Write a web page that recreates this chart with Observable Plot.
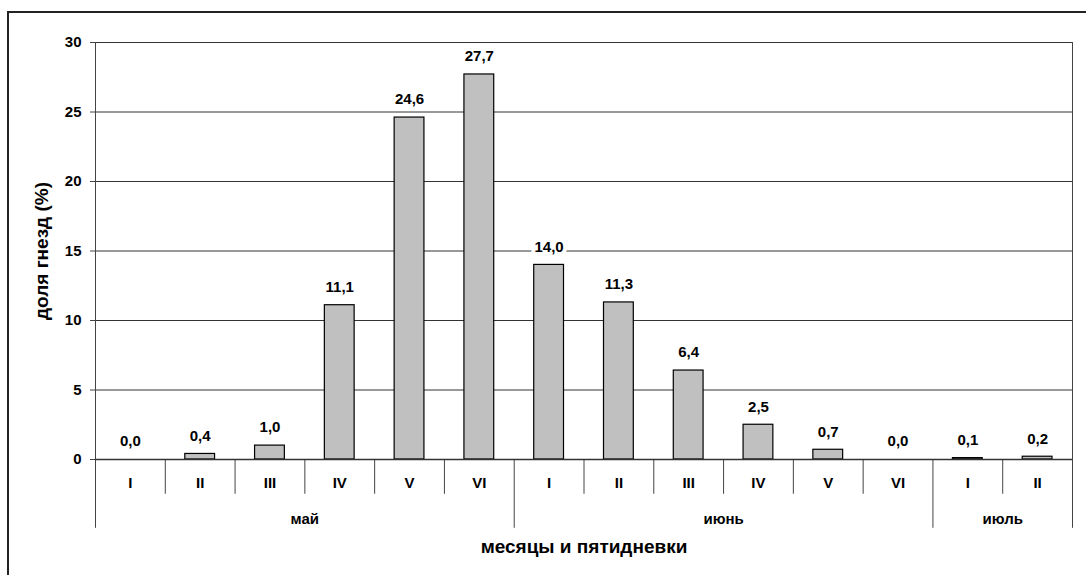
<!DOCTYPE html>
<html><head><meta charset="utf-8">
<script src="https://cdn.jsdelivr.net/npm/d3@7"></script>
<script src="https://cdn.jsdelivr.net/npm/@observablehq/plot@0.6"></script>
<style>
html,body{margin:0;padding:0;background:#fff;overflow:hidden;width:1086px;height:575px;}
#frame{position:absolute;left:7px;top:11px;width:1200px;height:700px;border-left:2px solid #222;border-top:2px solid #222;}
#chart{position:absolute;left:0;top:0;}
</style></head>
<body>
<div id="frame"></div>
<div id="chart"></div>
<script>
const pentads = ["I","II","III","IV","V","VI","I","II","III","IV","V","VI","I","II"];
const values = [0.0, 0.4, 1.0, 11.1, 24.6, 27.7, 14.0, 11.3, 6.4, 2.5, 0.7, 0.0, 0.1, 0.2];
const months = ["май","июнь","июль"];
const monthStart = [0, 6, 12];
const monthEnd = [6, 12, 14];
const yTicks = [0, 5, 10, 15, 20, 25, 30];
const yTitle = "доля гнезд (%)";
const xTitle = "месяцы и пятидневки";

const bars = values.map((v, i) => ({i, v, p: pentads[i], label: v.toFixed(1).replace(".", ",")}));
const monthData = months.map((m, k) => ({m, a: monthStart[k], b: monthEnd[k]}));
const pentadSeps = d3.range(0, pentads.length + 1).filter(i => !monthStart.includes(i) && !monthEnd.includes(i));
const monthSeps = Array.from(new Set([...monthStart, ...monthEnd]));

const font = "Liberation Sans, Arial, sans-serif";
const chart = Plot.plot({
  width: 1086, height: 575,
  marginLeft: 95, marginRight: 14, marginTop: 42, marginBottom: 116,
  style: {fontFamily: font, fontWeight: "bold", fontSize: "15px", background: "transparent", color: "#000"},
  x: {type: "linear", domain: [0, pentads.length], axis: null},
  y: {domain: [0, 30], axis: null},
  marks: [
    Plot.ruleY(yTicks.filter(d => d > 0), {stroke: "#333", strokeWidth: 1}),
    Plot.rectY(bars, {x1: "i", x2: d => d.i + 1, y: "v", fill: "#c0c0c0", stroke: "#000", strokeWidth: 1.2, insetLeft: 20, insetRight: 20}),
    Plot.ruleX(monthSeps, {x: d => d, y1: -4.95, y2: d => (d === 0 || d === pentads.length) ? 30 : 0, stroke: "#444", strokeWidth: 1}),
    Plot.ruleX(pentadSeps, {x: d => d, y1: -2.5, y2: 0, stroke: "#444", strokeWidth: 1}),
    Plot.ruleY([0], {stroke: "#333", strokeWidth: 1.5}),
    Plot.axisY({ticks: yTicks, tickSize: 5, tickPadding: 9, tickFormat: d => String(d), label: null, fontSize: 15, stroke: "#444"}),
    Plot.text(bars, {x: d => d.i + 0.5, y: "v", text: "label", dy: -18, fontSize: 15, stroke: "white", strokeWidth: 8, fill: "#000"}),
    Plot.text(bars, {x: d => d.i + 0.5, y: 0, text: "p", dy: 24, fontSize: 15}),
    Plot.text(monthData, {x: d => (d.a + d.b) / 2, y: 0, text: "m", dy: 60, fontSize: 15}),
    Plot.text([xTitle], {frameAnchor: "bottom", dy: 93, fontSize: 19}),
    Plot.text([yTitle], {frameAnchor: "left", textAnchor: "middle", dx: -54, rotate: -90, fontSize: 19})
  ]
});
document.getElementById("chart").appendChild(chart);
</script>
</body></html>
